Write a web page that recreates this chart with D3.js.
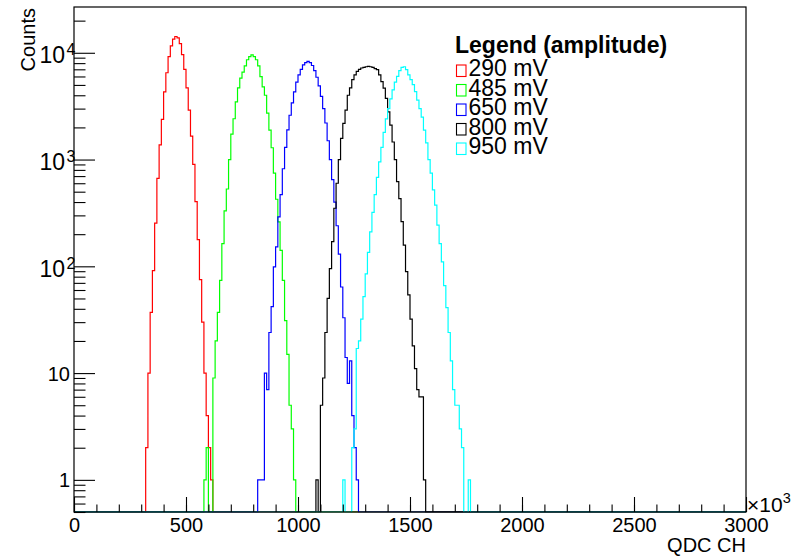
<!DOCTYPE html>
<html>
<head>
<meta charset="utf-8">
<script src="https://cdn.jsdelivr.net/npm/d3@7"></script>
<style>
  html, body { margin: 0; padding: 0; background: #fff; }
  svg { display: block; font-family: "Liberation Sans", Arial, Helvetica, sans-serif; }
</style>
</head>
<body>
<svg id="chart" width="800" height="556"></svg>
<script>
// QDC spectra, 10-channel bins, 0..3000 channels
const binWidth = 10;
const nBins = 300;

const seriesLabels = ["290 mV", "485 mV", "650 mV", "800 mV", "950 mV"];
const seriesColors = ["#ff0000", "#00ff00", "#0000ff", "#000000", "#00ffff"];

// first non-empty bin (lower edge, in channels) of each spectrum
const firstBin = [320, 580, 820, 1080, 1200];

const counts290 = [2, 10, 37, 91, 254, 667, 1370, 2380, 4300, 6500, 9200, 11600, 13400, 14200,
  13800, 12200, 9600, 7000, 4700, 2900, 1660, 900, 403, 178, 75, 30, 10, 4, 2, 1];

const counts485 = [1, 2, 0, 0, 9, 20, 37, 74, 163, 330, 530, 1000, 1730, 2410, 3470, 4700, 5800,
  6600, 7550, 8600, 9200, 9560, 9200, 8600, 7550, 5970, 4800, 4000, 2720, 1890, 1290, 745, 425,
  261, 141, 74, 31, 15, 5, 3, 1];

const counts650 = [1, 1, 1, 10, 7, 24, 42, 99, 152, 290, 470, 820, 1300, 1900, 2600, 3400, 4300,
  5300, 6200, 7000, 7700, 8100, 8300, 8100, 7600, 6800, 5900, 4900, 3900, 3000, 2200, 1500, 1000,
  650, 400, 240, 130, 64, 33, 14, 8, 13, 4, 2, 1];

const counts800 = [1, 0, 5, 9, 24, 50, 95, 170, 350, 600, 1000, 1580, 2180, 2900, 4000, 4700,
  5600, 6200, 6700, 7000, 7200, 7300, 7400, 7450, 7400, 7300, 7100, 6950, 6200, 5370, 4660, 3740,
  2800, 2100, 1460, 1000, 620, 430, 262, 158, 89, 54, 32, 18, 11, 7, 6, 6, 1];

const counts950 = [1, 0, 0, 0, 2, 3, 17, 20, 32, 52, 85, 135, 210, 320, 470, 680, 950, 1300, 1800,
  2400, 3000, 3700, 4500, 5300, 6000, 6800, 7300, 7400, 6950, 6200, 5600, 5030, 4330, 3600, 3000,
  2500, 1890, 1430, 1000, 745, 520, 375, 243, 163, 110, 66, 41, 24, 13, 7, 5, 5, 3, 2, 0, 0, 1];

const seriesCounts = [counts290, counts485, counts650, counts800, counts950];

const xTickValues = [0, 500, 1000, 1500, 2000, 2500, 3000];
const yMajorTicks = [1, 10, 100, 1000, 10000];

// ---- layout ----
const frame = { left: 74, right: 746, top: 7, bottom: 512 };
const svg = d3.select("#chart");

const x = d3.scaleLinear().domain([0, 3000]).range([frame.left, frame.right]);
const y = d3.scaleLog().domain([0.5, 26840]).range([frame.bottom, frame.top]);

// clip region for the histograms
svg.append("defs").append("clipPath").attr("id", "plotClip")
  .append("rect")
  .attr("x", frame.left).attr("y", frame.top - 1)
  .attr("width", frame.right - frame.left).attr("height", frame.bottom - frame.top + 1.5);

// full 300-bin content for each spectrum
function fullBins(start, counts) {
  const bins = new Array(nBins).fill(0);
  const i0 = Math.round(start / binWidth);
  counts.forEach((c, i) => { bins[i0 + i] = c; });
  return bins;
}

// step outline of a histogram; empty bins lie on the lower frame edge
function stepPath(bins) {
  const yOf = v => (v > 0 ? y(v) : frame.bottom);
  let d = `M${x(0)},${yOf(bins[0])}`;
  for (let i = 0; i < bins.length; i++) {
    if (i > 0) d += `V${yOf(bins[i])}`;
    d += `H${x((i + 1) * binWidth)}`;
  }
  return d;
}

const histLayer = svg.append("g").attr("clip-path", "url(#plotClip)");
seriesCounts.forEach((counts, k) => {
  histLayer.append("path")
    .attr("d", stepPath(fullBins(firstBin[k], counts)))
    .attr("fill", "none")
    .attr("stroke", seriesColors[k])
    .attr("stroke-width", 1.2);
});

// ---- frame ----
svg.append("rect")
  .attr("x", frame.left).attr("y", frame.top)
  .attr("width", frame.right - frame.left).attr("height", frame.bottom - frame.top)
  .attr("fill", "none").attr("stroke", "#000").attr("stroke-width", 1.2);

// ---- x axis: ticks point into the frame ----
const xMinor = svg.append("g").attr("transform", `translate(0,${frame.bottom})`)
  .call(d3.axisBottom(x).tickValues(d3.range(0, 3001, 100)).tickSize(-7.5).tickFormat(""));
xMinor.select(".domain").remove();

const xMajor = svg.append("g").attr("transform", `translate(0,${frame.bottom})`)
  .call(d3.axisBottom(x).tickValues(xTickValues).tickSize(-15).tickFormat(d3.format("d")));
xMajor.select(".domain").remove();
xMajor.selectAll(".tick text")
  .attr("y", 20).attr("dy", 0)
  .attr("font-size", 20).attr("fill", "#000")
  .attr("font-family", "'Liberation Sans', Arial, sans-serif");
[xMinor, xMajor].forEach(g => g.selectAll(".tick line").attr("stroke", "#000").attr("stroke-width", 1.1));

// multiplier shown at the end of the x axis
const mult = svg.append("text")
  .attr("x", frame.right + 1).attr("y", frame.bottom)
  .attr("font-size", 21).attr("fill", "#000");
mult.append("tspan").text("\u00d710");
mult.append("tspan").attr("dy", -9).attr("font-size", 14.5).text("3");

svg.append("text")
  .attr("x", frame.right).attr("y", 552)
  .attr("text-anchor", "end").attr("font-size", 20).attr("fill", "#000")
  .text("QDC CH");

// ---- y axis (log): major and minor ticks inside ----
const yMinorValues = [];
[0.1, 1, 10, 100, 1000, 10000].forEach(dec => {
  for (let m = 2; m <= 9; m++) {
    const v = m * dec;
    if (v >= 0.5 && v <= 26840 && yMajorTicks.indexOf(v) < 0) yMinorValues.push(v);
  }
});

const yMinor = svg.append("g").attr("transform", `translate(${frame.left},0)`)
  .call(d3.axisLeft(y).tickValues(yMinorValues).tickSize(-11.5).tickFormat(""));
yMinor.select(".domain").remove();

const yMajor = svg.append("g").attr("transform", `translate(${frame.left},0)`)
  .call(d3.axisLeft(y).tickValues(yMajorTicks).tickSize(-21).tickFormat(""));
yMajor.select(".domain").remove();
[yMinor, yMajor].forEach(g => g.selectAll(".tick line").attr("stroke", "#000").attr("stroke-width", 1.1));

// tick labels: 1 and 10 plain, higher decades as powers of ten
yMajor.selectAll(".tick").each(function (d) {
  const g = d3.select(this);
  const exp = Math.round(Math.log10(d));
  const t = g.append("text")
    .attr("fill", "#000")
    .attr("text-anchor", "end");
  if (exp <= 1) {
    t.attr("x", -4).attr("y", 7).attr("font-size", 20).text(String(d));
  } else {
    t.attr("x", 1.5).attr("y", 10).attr("font-size", 23);
    t.append("tspan").text("10");
    t.append("tspan").attr("dx", 1.5).attr("dy", -8).attr("font-size", 16).text(String(exp));
  }
});

svg.append("text")
  .attr("transform", `translate(35,${frame.top + 1}) rotate(-90)`)
  .attr("text-anchor", "end").attr("font-size", 20).attr("fill", "#000")
  .text("Counts");

// ---- legend ----
const legendX = 455;
const legendTitleY = 53;
const legendRowY = 76;
const legendRowStep = 19.5;

seriesLabels.forEach((lab, k) => {
  const base = legendRowY + k * legendRowStep;
  svg.append("rect")
    .attr("x", legendX + 1.5).attr("y", base - 11)
    .attr("width", 9.5).attr("height", 11.5)
    .attr("fill", "none").attr("stroke", seriesColors[k]).attr("stroke-width", 1.1);
});

// title and entries set as one text block with tight line spacing
const legendText = svg.append("text")
  .attr("x", legendX).attr("y", legendTitleY)
  .attr("font-size", 23).attr("fill", "#000");
legendText.append("tspan")
  .attr("x", legendX).attr("y", legendTitleY)
  .attr("font-weight", "bold")
  .text("Legend (amplitude)");
seriesLabels.forEach((lab, k) => {
  legendText.append("tspan")
    .attr("x", legendX + 13.5)
    .attr("y", legendRowY + k * legendRowStep)
    .text(lab);
});
</script>
</body>
</html>
